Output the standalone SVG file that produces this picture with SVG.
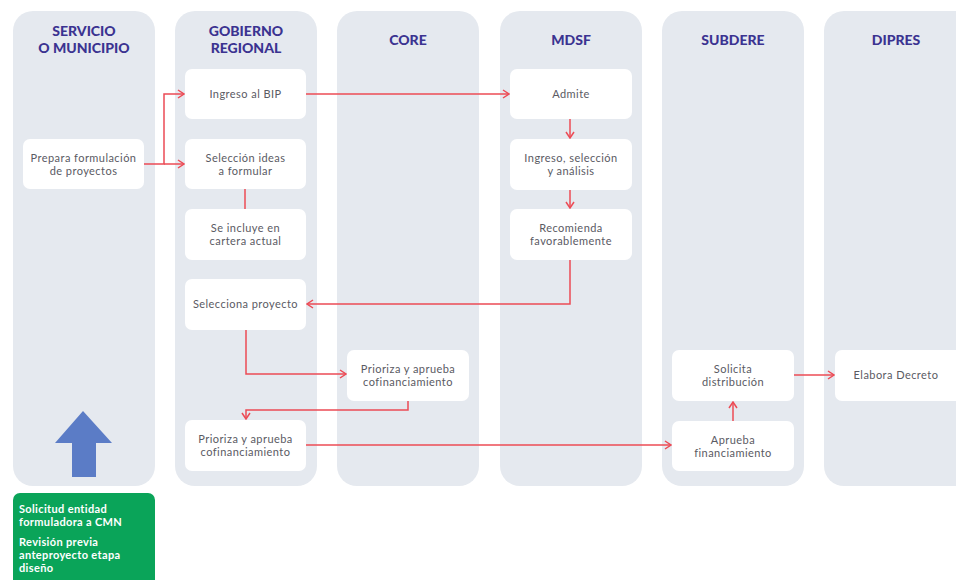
<svg xmlns="http://www.w3.org/2000/svg" width="956" height="580" viewBox="0 0 956 580">
<defs>
<style>
.lane{fill:#e5e9ef}
.box{fill:#ffffff}
.hd{font-family:Lato,"Open Sans",sans-serif;font-weight:900;font-size:14px;fill:#3b3391;text-anchor:middle}
.tx{font-family:Lato,"Open Sans",sans-serif;font-size:11px;letter-spacing:0.45px;fill:#5a5a63;text-anchor:middle}
.gt{font-family:Lato,"Open Sans",sans-serif;font-size:11px;letter-spacing:0.35px;font-weight:bold;fill:#ffffff}
.cn{fill:none;stroke:#ec4b55;stroke-width:1.5}
</style>
<marker id="ah" viewBox="0 0 8 10" refX="7" refY="5" markerWidth="8" markerHeight="10" markerUnits="userSpaceOnUse" orient="auto">
<path d="M1,1 L7,5 L1,9" fill="none" stroke="#ec4b55" stroke-width="1.5"/>
</marker>
</defs>
<rect width="956" height="580" fill="#ffffff"/>
<g id="lanes">
<g id="lane-servicio"><rect class="lane" x="13" y="11" width="142" height="475" rx="20"/><text class="hd" x="84" y="36">SERVICIO</text><text class="hd" x="84" y="53">O MUNICIPIO</text></g>
<g id="lane-gore"><rect class="lane" x="175" y="11" width="142" height="475" rx="20"/><text class="hd" x="246" y="36">GOBIERNO</text><text class="hd" x="246" y="53">REGIONAL</text></g>
<g id="lane-core"><rect class="lane" x="337" y="11" width="142" height="475" rx="20"/><text class="hd" x="408" y="45">CORE</text></g>
<g id="lane-mdsf"><rect class="lane" x="500" y="11" width="142" height="475" rx="20"/><text class="hd" x="571" y="45">MDSF</text></g>
<g id="lane-subdere"><rect class="lane" x="662" y="11" width="142" height="475" rx="20"/><text class="hd" x="733" y="45">SUBDERE</text></g>
<g id="lane-dipres"><rect class="lane" x="824" y="11" width="150" height="475" rx="20"/><text class="hd" x="896" y="45">DIPRES</text></g>
</g>
<g id="connectors">
<path class="cn" d="M144,164 H164 V94 H184" marker-end="url(#ah)"/>
<path class="cn" d="M164,164 H184" marker-end="url(#ah)"/>
<path class="cn" d="M306,94 H509" marker-end="url(#ah)"/>
<path class="cn" d="M245,189 V209"/>
<path class="cn" d="M570,119 V138" marker-end="url(#ah)"/>
<path class="cn" d="M570,190 V208" marker-end="url(#ah)"/>
<path class="cn" d="M570,260 V304 H307" marker-end="url(#ah)"/>
<path class="cn" d="M246,330 V374 H346" marker-end="url(#ah)"/>
<path class="cn" d="M408,401 V410 H246 V419" marker-end="url(#ah)"/>
<path class="cn" d="M306,445 H671" marker-end="url(#ah)"/>
<path class="cn" d="M733,421 V402" marker-end="url(#ah)"/>
<path class="cn" d="M794,375 H834" marker-end="url(#ah)"/>
</g>
<g id="n-prepara"><rect class="box" x="23" y="139" width="121" height="50" rx="7"/><text class="tx" x="83.5" y="161.5">Prepara formulación</text><text class="tx" x="83.5" y="175">de proyectos</text></g>
<g id="n-ingreso-bip"><rect class="box" x="185" y="69" width="121" height="50" rx="7"/><text class="tx" x="245.5" y="98">Ingreso al BIP</text></g>
<g id="n-seleccion-ideas"><rect class="box" x="185" y="139" width="121" height="50" rx="7"/><text class="tx" x="245.5" y="161.5">Selección ideas</text><text class="tx" x="245.5" y="175">a formular</text></g>
<g id="n-se-incluye"><rect class="box" x="185" y="209" width="121" height="51" rx="7"/><text class="tx" x="245.5" y="231.5">Se incluye en</text><text class="tx" x="245.5" y="245">cartera actual</text></g>
<g id="n-selecciona"><rect class="box" x="185" y="279" width="121" height="51" rx="7"/><text class="tx" x="245.5" y="308">Selecciona proyecto</text></g>
<g id="n-prioriza-gore"><rect class="box" x="185" y="420" width="121" height="51" rx="7"/><text class="tx" x="245.5" y="442.5">Prioriza y aprueba</text><text class="tx" x="245.5" y="456">cofinanciamiento</text></g>
<g id="n-prioriza-core"><rect class="box" x="347" y="350" width="122" height="51" rx="7"/><text class="tx" x="408" y="372.5">Prioriza y aprueba</text><text class="tx" x="408" y="386">cofinanciamiento</text></g>
<g id="n-admite"><rect class="box" x="510" y="69" width="122" height="50" rx="7"/><text class="tx" x="571" y="98">Admite</text></g>
<g id="n-ingreso-sel"><rect class="box" x="510" y="139" width="122" height="51" rx="7"/><text class="tx" x="571" y="161.5">Ingreso, selección</text><text class="tx" x="571" y="175">y análisis</text></g>
<g id="n-recomienda"><rect class="box" x="510" y="209" width="122" height="51" rx="7"/><text class="tx" x="571" y="231.5">Recomienda</text><text class="tx" x="571" y="245">favorablemente</text></g>
<g id="n-solicita"><rect class="box" x="672" y="350" width="122" height="51" rx="7"/><text class="tx" x="733" y="372.5">Solicita</text><text class="tx" x="733" y="386">distribución</text></g>
<g id="n-aprueba"><rect class="box" x="672" y="421" width="122" height="50" rx="7"/><text class="tx" x="733" y="443.5">Aprueba</text><text class="tx" x="733" y="457">financiamiento</text></g>
<g id="n-elabora"><rect class="box" x="835" y="350" width="128" height="51" rx="7"/><text class="tx" x="896" y="379">Elabora Decreto</text></g>
<g id="n-arrow"><path d="M83,411 L112,443 L96,443 L96,477 L72,477 L72,443 L55,443 Z" fill="#5b7cc6"/></g>
<g id="n-green"><rect x="13" y="493" width="142" height="100" rx="7" fill="#0aa459"/>
<text class="gt" x="19" y="513">Solicitud entidad</text><text class="gt" x="19" y="526">formuladora a CMN</text>
<text class="gt" x="19" y="546">Revisión previa</text><text class="gt" x="19" y="559">anteproyecto etapa</text><text class="gt" x="19" y="572">diseño</text></g>
</svg>
